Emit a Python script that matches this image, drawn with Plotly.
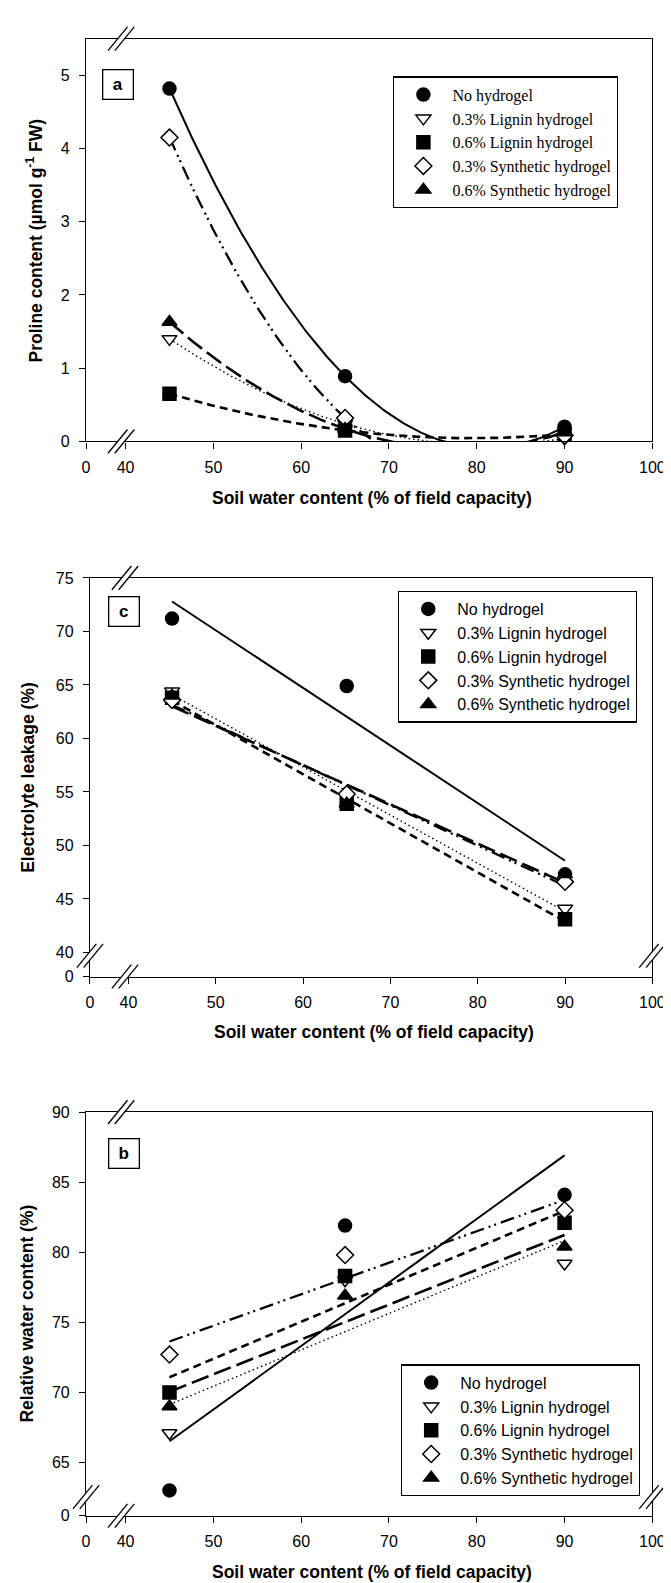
import numpy as np
import plotly.graph_objects as go

W, H = 671, 1583

# ---------------- data ----------------
water_levels = [45, 65, 90]
series_names = ["No hydrogel", "0.3% Lignin hydrogel", "0.6% Lignin hydrogel",
                "0.3% Synthetic hydrogel", "0.6% Synthetic hydrogel"]

# (a) Proline content (umol g-1 FW)
proline_none = [4.82, 0.89, 0.20]
proline_lig03 = [1.40, 0.24, 0.04]
proline_lig06 = [0.65, 0.15, 0.10]
proline_syn03 = [4.15, 0.32, 0.08]
proline_syn06 = [1.63, 0.17, 0.12]

# (c) Electrolyte leakage (%)
leak_none = [71.2, 64.9, 47.3]
leak_lig03 = [64.4, 54.5, 44.1]
leak_lig06 = [63.8, 53.9, 43.1]
leak_syn03 = [63.6, 54.8, 46.6]
leak_syn06 = [64.0, 53.9, 47.3]

# (b) Relative water content (%)
rwc_none = [63.0, 81.9, 84.1]
rwc_lig03 = [67.1, 78.0, 79.2]
rwc_lig06 = [70.0, 78.3, 82.1]
rwc_syn03 = [72.7, 79.8, 83.0]
rwc_syn06 = [69.0, 76.9, 80.4]

x_tick_vals = [40, 50, 60, 70, 80, 90, 100]
x_tick_text = ["40", "50", "60", "70", "80", "90", "100"]
proline_ticks = [0, 1, 2, 3, 4, 5]
leak_ticks = [40, 45, 50, 55, 60, 65, 70, 75]
rwc_ticks = [65, 70, 75, 80, 85, 90]

# ---------------- styles ----------------
marker_symbols = ["circle", "triangle-down", "square", "diamond", "triangle-up"]
marker_fill = ["black", "white", "black", "white", "black"]
line_dash = ["solid", "1.5px,3px", "8px,5px", "14px,5px,2px,4px,2px,5px", "18px,6px"]
line_width = [2.0, 1.4, 2.6, 2.3, 2.6]

def px_x(p):
    return p / W

def px_y(p):
    return 1 - p / H

# panel pixel boxes: (left, right, top, bottom)
boxes = {
    "a": (76, 657, 23, 430),
    "c": (80, 657, 568, 971),
    "b": (76, 657, 1108, 1516),
}
x_ranges = {"a": [35.5, 100], "c": [35.6, 100], "b": [35.5, 100]}
y_ranges = {"a": [0, 5.5], "c": [37.75, 75], "b": [61.2, 90]}

panels = [
    ("a", "x", "y", "legend", [proline_none, proline_lig03, proline_lig06, proline_syn03, proline_syn06], 2,
     proline_ticks, False),
    ("c", "x2", "y2", "legend2", [leak_none, leak_lig03, leak_lig06, leak_syn03, leak_syn06], 1,
     leak_ticks, True),
    ("b", "x3", "y3", "legend3", [rwc_none, rwc_lig03, rwc_lig06, rwc_syn03, rwc_syn06], 1,
     rwc_ticks, True),
]

fig = go.Figure()

for key, xa, ya, leg, data, deg, yt, ybreak in panels:
    xfit = np.linspace(min(water_levels), max(water_levels), 200)
    for i, ys in enumerate(data):
        coef = np.polyfit(water_levels, ys, deg)
        fig.add_trace(go.Scatter(
            x=xfit, y=np.polyval(coef, xfit), mode="lines", xaxis=xa, yaxis=ya,
            line=dict(color="black", width=line_width[i], dash=line_dash[i]),
            showlegend=False, hoverinfo="skip"))
    for i, ys in enumerate(data):
        fig.add_trace(go.Scatter(
            x=water_levels, y=ys, mode="markers", xaxis=xa, yaxis=ya,
            name=series_names[i], legend=leg, cliponaxis=False,
            marker=dict(symbol=marker_symbols[i], size=13, color=marker_fill[i],
                        line=dict(color="black", width=1.5))))

layout = dict(
    width=W, height=H, autosize=False,
    margin=dict(l=0, r=0, t=0, b=0),
    paper_bgcolor="white", plot_bgcolor="white",
    font=dict(family="Liberation Sans, Arial, sans-serif", color="black", size=16),
    showlegend=True,
)

axis_common = dict(showline=True, linecolor="black", linewidth=1.3, mirror=True,
                   showgrid=False, zeroline=False, ticks="outside", ticklen=6,
                   tickwidth=1.3, tickcolor="black", tickfont=dict(size=16, color="black"))

shapes = []
annotations = []

def add_break(cx, cy, hw=10, hh=12, off=3.5):
    a0 = (cx - off - hw, cy + hh)
    a1 = (cx - off + hw, cy - hh)
    b0 = (cx + off - hw, cy + hh)
    b1 = (cx + off + hw, cy - hh)
    path = "M {},{} L {},{} L {},{} L {},{} Z".format(
        px_x(a0[0]), px_y(a0[1]), px_x(a1[0]), px_y(a1[1]),
        px_x(b1[0]), px_y(b1[1]), px_x(b0[0]), px_y(b0[1]))
    shapes.append(dict(type="path", xref="paper", yref="paper", path=path,
                       fillcolor="white", line=dict(width=0), layer="above"))
    for p0, p1 in ((a0, a1), (b0, b1)):
        shapes.append(dict(type="line", xref="paper", yref="paper",
                           x0=px_x(p0[0]), y0=px_y(p0[1]), x1=px_x(p1[0]), y1=px_y(p1[1]),
                           line=dict(color="black", width=1.3), layer="above"))

suffix = {"a": "", "c": "2", "b": "3"}
ytitles = {"a": "<b>Proline content (µmol g<sup>-1</sup> FW)</b>",
           "c": "<b>Electrolyte leakage (%)</b>",
           "b": "<b>Relative water content (%)</b>"}
ytitle_x = {"a": 23, "c": 17, "b": 15}
label_center = {"a": (109, 69), "c": (114.5, 602), "b": (114.5, 1150)}
legend_pos = {"a": (391, 61), "c": (396, 581), "b": (399, 1363)}
legend_font = {"a": "Liberation Serif, Times New Roman, serif",
               "c": "Liberation Sans, Arial, sans-serif",
               "b": "Liberation Sans, Arial, sans-serif"}
xtitle_y = {"a": 487, "c": 1027, "b": 1573}

for key, xa, ya, leg, data, deg, yt, ybreak in panels:
    l, r, t, b = boxes[key]
    s = suffix[key]
    xr = x_ranges[key]
    yr = y_ranges[key]
    layout["xaxis" + s] = dict(axis_common, domain=[px_x(l), px_x(r)], range=xr,
                               anchor="y" + s,
                               tickvals=[xr[0]] + x_tick_vals, ticktext=["0"] + x_tick_text,
                               ticklabelstandoff=5)
    if ybreak:
        yvals = [yr[0]] + yt
        ytext = ["0"] + [str(v) for v in yt]
    else:
        yvals = yt
        ytext = [str(v) for v in yt]
    layout["yaxis" + s] = dict(axis_common, domain=[px_y(b), px_y(t)], range=yr,
                               anchor="x" + s, tickvals=yvals, ticktext=ytext,
                               ticklabelstandoff=6)
    # breaks
    bx = 112 if key != "c" else 116
    add_break(bx, t)
    add_break(bx, b)
    if ybreak:
        by = 950 if key == "c" else 1497
        add_break(l, by)
        add_break(r, by)
    # titles
    annotations.append(dict(xref="paper", yref="paper", x=px_x((l + r) / 2 + 3), y=px_y(xtitle_y[key]),
                            text="<b>Soil water content (% of field capacity)</b>", showarrow=False,
                            xanchor="center", yanchor="middle", font=dict(size=17.5)))
    annotations.append(dict(xref="paper", yref="paper", x=px_x(ytitle_x[key]), y=px_y((t + b) / 2),
                            text=ytitles[key], showarrow=False, textangle=-90,
                            xanchor="center", yanchor="middle", font=dict(size=17.5)))
    cx, cy = label_center[key]
    annotations.append(dict(xref="paper", yref="paper", x=px_x(cx), y=px_y(cy),
                            text="<b>" + key + "</b>", showarrow=False,
                            xanchor="center", yanchor="middle", font=dict(size=17),
                            bordercolor="black", borderwidth=1.3, borderpad=3,
                            bgcolor="white", width=23, height=22))
    lx, ly = legend_pos[key]
    layout[leg] = dict(x=px_x(lx), y=px_y(ly), xref="paper", yref="paper",
                       xanchor="left", yanchor="top",
                       bordercolor="black", borderwidth=1.3, bgcolor="white",
                       font=dict(family=legend_font[key], size=16, color="black"),
                       itemwidth=48, tracegroupgap=0)

layout["shapes"] = shapes
layout["annotations"] = annotations
fig.update_layout(**layout)
fig.write_html("out.html")
